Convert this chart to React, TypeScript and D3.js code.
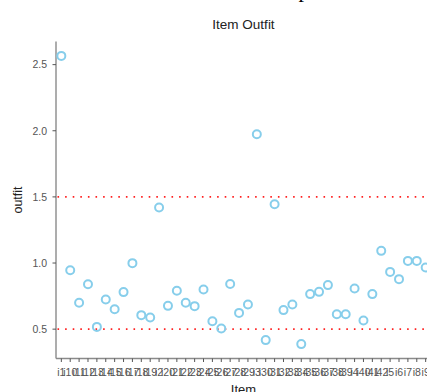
import React from "react";
import * as d3 from "d3";

// item ids, in the (string) order the chart shows them
const items = [
  "i1", "i10", "i11", "i12", "i13", "i14", "i15", "i16", "i17", "i18", "i19",
  "i2", "i20", "i21", "i22", "i23", "i24", "i25", "i26", "i27", "i28", "i29",
  "i3", "i30", "i31", "i32", "i33", "i34", "i35", "i36", "i37", "i38", "i39",
  "i4", "i40", "i41", "i42", "i5", "i6", "i7", "i8", "i9",
];

const outfit = [
  2.566, 0.946, 0.699, 0.84, 0.517, 0.724, 0.651, 0.78, 0.999, 0.606, 0.588,
  1.42, 0.676, 0.79, 0.699, 0.674, 0.8, 0.56, 0.505, 0.842, 0.623, 0.687,
  1.974, 0.417, 1.445, 0.644, 0.687, 0.387, 0.765, 0.782, 0.833, 0.613, 0.613,
  0.808, 0.566, 0.765, 1.092, 0.933, 0.878, 1.016, 1.016, 0.966,
];

const yTicks = [0.5, 1.0, 1.5, 2.0, 2.5];
const cutoffs = [0.5, 1.5];

const W = 427, H = 392;
const left = 56, right = 431, top = 41.5, bottom = 358.5;
const font = "'Liberation Sans', Arial, Helvetica, sans-serif";

export default function App() {
  const data = items.map((id, i) => ({ id, v: outfit[i] }));

  const x = d3.scalePoint<string>().domain(items).range([left, right]).padding(0.6);

  const [lo, hi] = d3.extent(outfit) as [number, number];
  const pad = (hi - lo) * 0.05;
  const y = d3.scaleLinear().domain([lo - pad, hi + pad]).range([bottom, top]);
  const fmt = d3.format(".1f");

  return (
    <div style={{ position: "fixed", left: 0, top: 0 }}>
      <svg width={W} height={H} style={{ display: "block", background: "#fff" }}>
        {/* bit of a page heading that sits above the chart */}
        <text x={304} y={-3} fontFamily="serif" fontSize={22} textAnchor="middle" fill="#000">p</text>

        <text x={(left + right) / 2} y={29} textAnchor="middle" fontFamily={font} fontSize={13.5} fill="#222">
          Item Outfit
        </text>

        {/* cutoff lines */}
        {cutoffs.map((c) => (
          <line key={c} x1={left + 1.5} x2={right} y1={y(c)} y2={y(c)}
            stroke="#ff2020" strokeWidth={1.6} strokeDasharray="1.6 6" />
        ))}

        {/* axes */}
        <line x1={left} x2={left} y1={top} y2={bottom} stroke="#8a8a8a" strokeWidth={1.4} />
        <line x1={left} x2={right} y1={bottom} y2={bottom} stroke="#8a8a8a" strokeWidth={1.4} />

        {yTicks.map((t) => (
          <g key={t}>
            <line x1={left - 3.5} x2={left} y1={y(t)} y2={y(t)} stroke="#555" strokeWidth={1} />
            <text x={left - 9} y={y(t)} dy="0.36em" textAnchor="end" fontFamily={font} fontSize={10.5} fill="#555">
              {fmt(t)}
            </text>
          </g>
        ))}

        {items.map((id) => (
          <g key={id}>
            <line x1={x(id)} x2={x(id)} y1={bottom} y2={bottom + 3.5} stroke="#555" strokeWidth={1} />
            <text x={x(id)} y={375.5} textAnchor="middle" fontFamily={font} fontSize={10.5} fill="#555">
              {id}
            </text>
          </g>
        ))}

        <text transform={`translate(22,${(top + bottom) / 2}) rotate(-90)`} textAnchor="middle"
          fontFamily={font} fontSize={12.5} fill="#222">outfit</text>
        <text x={(left + right) / 2} y={394} textAnchor="middle" fontFamily={font} fontSize={13} fill="#222">
          Item
        </text>

        {/* points */}
        {data.map((d) => (
          <circle key={d.id} cx={x(d.id)} cy={y(d.v)} r={4} fill="none" stroke="#87ceeb" strokeWidth={2} />
        ))}
      </svg>
    </div>
  );
}
